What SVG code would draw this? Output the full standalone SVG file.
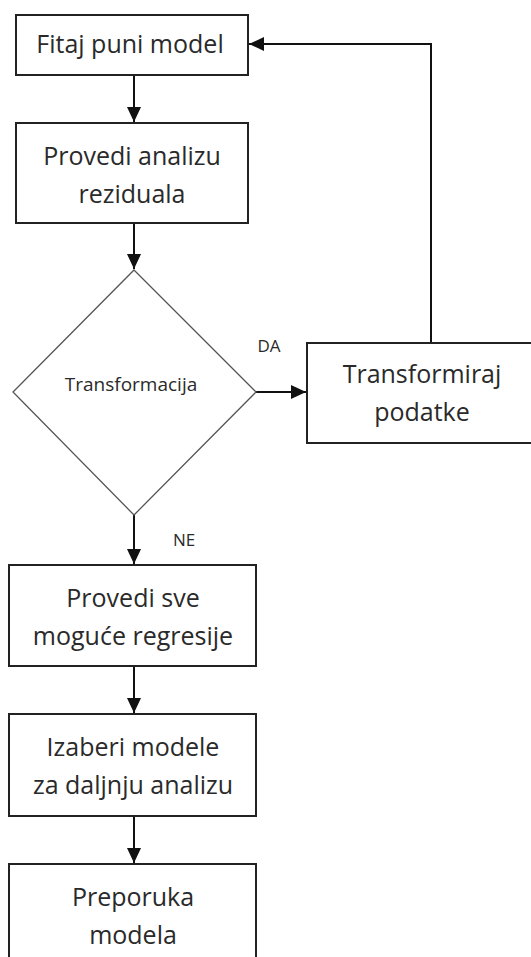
<svg xmlns="http://www.w3.org/2000/svg" width="531" height="957" viewBox="0 0 531 957">
<defs>
<style>
.box{fill:#fff;stroke:#222;stroke-width:2}
.dia{fill:#fff;stroke:#555;stroke-width:1.3}
.t{font-family:"Open Sans","Liberation Sans",sans-serif;font-size:25px;fill:#2a2a2a;text-anchor:middle}
.s{font-family:"Open Sans","Liberation Sans",sans-serif;font-size:17px;fill:#2a2a2a;text-anchor:middle}
.d{font-family:"Open Sans","Liberation Sans",sans-serif;font-size:19px;fill:#2a2a2a;text-anchor:middle}
.c{fill:none;stroke:#111;stroke-width:2}
</style>
<marker id="ah" markerUnits="userSpaceOnUse" markerWidth="16" markerHeight="16" viewBox="0 0 16 16" refX="15" refY="8" orient="auto">
<path d="M0,1 L15,8 L0,15 Z" fill="#111"/>
</marker>
</defs>
<rect width="531" height="957" fill="#fff"/>
<g id="connectors">
<line class="c" x1="134" y1="75" x2="134" y2="122" marker-end="url(#ah)"/>
<line class="c" x1="134" y1="223" x2="134" y2="269" marker-end="url(#ah)"/>
<line class="c" x1="256" y1="392" x2="306" y2="392" marker-end="url(#ah)"/>
<polyline class="c" points="431,343 431,44 249,44" marker-end="url(#ah)"/>
<line class="c" x1="134" y1="515" x2="134" y2="564" marker-end="url(#ah)"/>
<line class="c" x1="134" y1="666" x2="134" y2="713" marker-end="url(#ah)"/>
<line class="c" x1="134" y1="816" x2="134" y2="863" marker-end="url(#ah)"/>
<text class="s" x="269" y="352">DA</text>
<text class="s" x="184" y="546">NE</text>
</g>
<g id="n1">
<rect class="box" x="16" y="15" width="232" height="60"/>
<text class="t" x="130" y="53">Fitaj puni model</text>
</g>
<g id="n2">
<rect class="box" x="16" y="123" width="232" height="100"/>
<text class="t" x="132" y="165">Provedi analizu</text>
<text class="t" x="132" y="203">reziduala</text>
</g>
<g id="n3">
<polygon class="dia" points="134,270 256,392 134,515 13,392"/>
<text class="d" x="131" y="391">Transformacija</text>
</g>
<g id="n4">
<rect class="box" x="307" y="343" width="230" height="100"/>
<text class="t" x="422" y="383">Transformiraj</text>
<text class="t" x="422" y="421">podatke</text>
</g>
<g id="n5">
<rect class="box" x="9" y="565" width="247" height="101"/>
<text class="t" x="133" y="607">Provedi sve</text>
<text class="t" x="133" y="645">moguće regresije</text>
</g>
<g id="n6">
<rect class="box" x="9" y="714" width="247" height="102"/>
<text class="t" x="133" y="756">Izaberi modele</text>
<text class="t" x="133" y="794">za daljnju analizu</text>
</g>
<g id="n7">
<rect class="box" x="9" y="864" width="247" height="110"/>
<text class="t" x="133" y="906">Preporuka</text>
<text class="t" x="133" y="944">modela</text>
</g>
</svg>
